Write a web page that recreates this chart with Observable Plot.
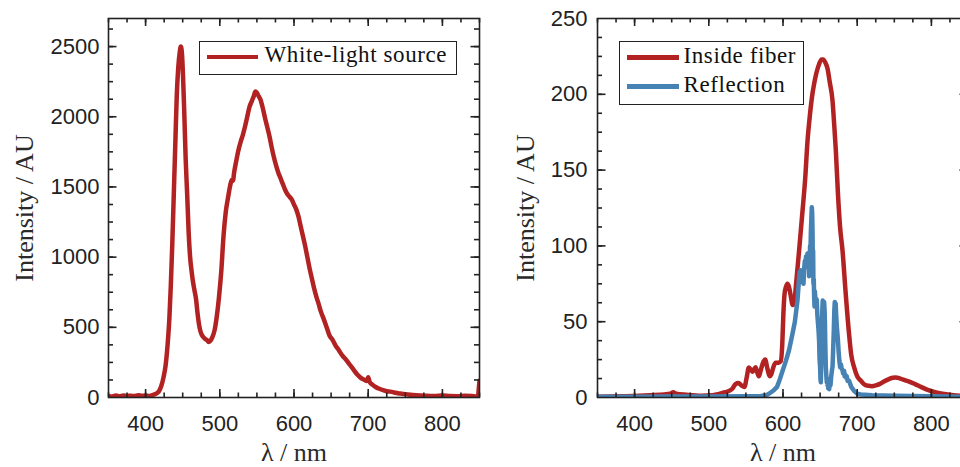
<!DOCTYPE html>
<html><head><meta charset="utf-8">
<script src="https://cdn.jsdelivr.net/npm/d3@7"></script>
<script src="https://cdn.jsdelivr.net/npm/@observablehq/plot@0.6"></script>
<style>
html,body{margin:0;padding:0;background:#fff;overflow:hidden}
#wrap{position:relative;width:960px;height:467px;overflow:hidden;background:#fff}
#left{position:absolute;left:0;top:0;width:480px;height:467px}
#right{position:absolute;left:480px;top:0;width:490px;height:467px}
.legend{position:absolute;box-sizing:border-box;background:#fff;border:1.5px solid #222;font-family:"Liberation Serif",serif;font-size:23px;line-height:23px;color:#111;letter-spacing:0.6px}
.legend .ln{position:absolute;height:4.5px}
.legend .tx{position:absolute;white-space:nowrap}
g[aria-label="ylabel"] text, g[aria-label="xlabel"] text{letter-spacing:0.8px;word-spacing:3px}
</style>
</head><body>
<div id="wrap">
  <div id="left"></div>
  <div id="right"></div>
  <div class="legend" id="legL" style="left:199px;top:40.7px;width:258px;height:34.6px"></div>
  <div class="legend" id="legR" style="left:619px;top:40.7px;width:185.3px;height:64.6px"></div>
</div>
<script>
// ---- data ----
const whiteNm = [350,355,360,365,370,375,380,385,390,395,400,405,410,415,418,421,424,427,430,432,434,436,438,440,442,444,446,447.5,449,450.5,452,454,456,458,460,462,464,466,468,470,472,474,477,480,483,485,487,490,493,496,499,502,505,508,511,514,516,518,519,522,525,528,531,534,537,540,543,546,548,550,552,555,558,561,564,567,570,573,576,579,582,585,588,591,594,597,600,603,606,609,612,615,618,621,624,627,630,633,636,640,644,648,652,656,660,665,670,675,680,685,690,695,698,700,702,706,710,715,720,725,730,735,740,745,750,760,770,780,790,800,810,820,830,840,845,848,849,850];
const whiteI  = [12,8,14,9,15,11,13,10,16,12,14,11,18,30,45,80,140,230,400,560,800,1100,1450,1800,2150,2350,2460,2500,2450,2280,2050,1700,1450,1180,1000,900,820,760,700,600,520,470,435,418,408,395,402,430,480,580,720,900,1150,1320,1420,1510,1550,1545,1590,1680,1760,1820,1870,1930,2000,2070,2110,2150,2180,2170,2150,2120,2060,1990,1925,1860,1780,1710,1650,1600,1560,1520,1480,1450,1430,1410,1375,1340,1290,1220,1150,1080,1000,920,850,780,720,670,615,560,500,440,410,370,340,300,270,235,200,165,140,125,118,145,110,90,75,62,52,45,42,36,30,27,24,18,14,12,10,14,10,9,12,10,8,12,60,120];

const fiberNm = [350,380,400,420,440,448,452,456,470,490,505,515,522,528,532,536,540,544,548,551,554,557,559,561,563,565,567.5,570,574,576,579,582,584,587,590,594,597,599,600.5,602,604,606,608,610.5,613,615,617.3,619.5,621.7,624,626.3,630,633,636,639,642,645,648.7,652,654,657,660,663,666.7,669,671.2,674,677,680.2,684.6,689,692,695.8,700,705,710,715,720,725,730,736,742,748,752,758,764,770,778,786,795,805,815,830,850];
const fiberI  = [0.5,0.8,1,1.5,2,2.5,3.5,2.5,1.8,1.2,1.5,2.5,3.5,4.5,6,8.8,9.5,8,7,13,19.8,18,17,18.5,20,17,14,18,24,25,19,14,15,20,23,23,24,35,55,68,73,75,73,67,61,62,73,85,97,110,123,145,169,185,198,207,214,220,223,223,221,217,208,196,180,163,135,112,97,68,42,28,20,14,11,8.5,7.7,7.5,8,8.8,10.5,12,13,13.2,12.5,11.5,10.5,8.8,7,5,3.5,2.5,1.5,1];

const reflNm = [350,400,450,500,550,570,578,583.5,588,592,595,599,603.8,608,612.8,616,619.5,621.7,622.5,623.3,624,625,626,627,627.6,628.5,629.4,630.2,631,632,633,633.8,634.5,635.2,636,636.5,637,637.5,638.2,638.8,639.3,639.8,640.2,640.6,641,641.5,642,642.5,643,644,645,645.6,646.2,647,647.8,648.7,649.3,650,650.5,651,651.6,652.3,652.8,653.5,654,654.5,655,655.4,656,656.5,657,657.7,658.3,659,659.5,660,660.5,661,662.2,663,664,665,666,666.7,667.5,668.5,669.2,669.8,670.5,671,671.6,672.2,672.8,673.4,674,675,676,677,678,679,680.2,681,682.4,683,684,685,686,687,689,692,695.8,700,705,720,750,800,850];
const reflI  = [0.5,0.5,0.6,0.6,0.8,1,1.5,3.3,5,7,11,17,24,31,42,50,64,79,83,78,84,81,76,80,75,85,90,86,93,89,95,88,92,80,90,100,95,108,118,125.5,122,110,90,97,75,78,66,60,70,62,65,64,55,50,45,37,25,20,12,10,25,40,55,64,58,60,55,63,58,50,35,20,15,10,12,8,12,6,5.5,9,8,14,18,20,30,45,58,63,60,62,55,50,45,42,38,30,24,20,22,19,18,16,17.6,14,15,13,14,11,11,7,4.4,2.5,2,1.5,1.2,0.8,0.5];

const xMajor = [400,500,600,700,800];
const xMinor = d3.range(350, 851, 25);
const yMajorL = [0,500,1000,1500,2000,2500];
const yMinorL = d3.range(0, 2700, 125);
const yMajorR = [0,50,100,150,200,250];
const yMinorR = d3.range(0, 250.1, 12.5);

const RED = "#b22222", BLUE = "#4682b4", INK = "#222";
const X0 = 350, X1 = 850;
const toRows = (xs, ys) => xs.map((x, i) => ({nm: x, v: ys[i]}));

// inward ticks on all four sides, drawn as short rules through the plot's scales
function frameTicks(yMax, yMajor, yMinor, fw, fh) {
  const kx = px => px * (X1 - X0) / fw;
  const ky = px => px * yMax / fh;
  const st = {stroke: INK, strokeWidth: 1.6};
  const out = [];
  for (const [t, L] of [[xMinor, 4.5], [xMajor, 8]]) {
    out.push(Plot.ruleX(t, {x: d => d, y1: 0, y2: ky(L), ...st}));
    out.push(Plot.ruleX(t, {x: d => d, y1: yMax, y2: yMax - ky(L), ...st}));
  }
  for (const [t, L] of [[yMinor, 5], [yMajor, 8.5]]) {
    const tt = t.filter(v => v > 0 && v < yMax);
    out.push(Plot.ruleY(tt, {y: d => d, x1: X0, x2: X0 + kx(L), ...st}));
    out.push(Plot.ruleY(tt, {y: d => d, x1: X1, x2: X1 - kx(L), ...st}));
  }
  return out;
}

function frameAxes(yMajor, pad) {
  return [
    Plot.axisX({anchor: "bottom", ticks: xMajor, tickSize: 0, tickPadding: 18, label: null, tickFormat: "d",
      fontSize: 22, fontFamily: "Liberation Sans", fill: INK}),
    Plot.axisY({anchor: "left", ticks: yMajor, tickSize: 0, tickPadding: pad, label: null, tickFormat: "d",
      fontSize: 22, fontFamily: "Liberation Sans", fill: INK}),
    Plot.frame({stroke: INK, strokeWidth: 1.6})
  ];
}

function labels(ydx) {
  return [
    Plot.text(["Intensity / AU"], {text: d => d, frameAnchor: "left", rotate: -90, dx: ydx,
      lineAnchor: "middle", textAnchor: "middle", fontSize: 26, fontFamily: "Liberation Serif",
      fill: "#2a2a2a", ariaLabel: "ylabel"}),
    Plot.text(["λ / nm"], {text: d => d, frameAnchor: "bottom", dy: 55.5,
      lineAnchor: "middle", textAnchor: "middle", fontSize: 26, fontFamily: "Liberation Serif",
      fill: "#2a2a2a", ariaLabel: "xlabel"})
  ];
}

const left = Plot.plot({
  width: 480, height: 467,
  marginLeft: 108, marginRight: 1, marginTop: 18, marginBottom: 70,
  style: {background: "transparent", overflow: "visible"},
  x: {domain: [X0, X1]},
  y: {domain: [0, 2700]},
  marks: [
    Plot.line(toRows(whiteNm, whiteI), {x: "nm", y: "v", stroke: RED, strokeWidth: 4.5, curve: "monotone-x", clip: true}),
    ...frameAxes(yMajorL, 9),
    ...labels(-84),
    ...frameTicks(2700, yMajorL, yMinorL, 371, 379)
  ]
});
document.getElementById("left").append(left);

const right = Plot.plot({
  width: 490, height: 467,
  marginLeft: 117, marginRight: 2, marginTop: 18, marginBottom: 70,
  style: {background: "transparent", overflow: "visible"},
  x: {domain: [X0, X1]},
  y: {domain: [0, 250]},
  marks: [
    Plot.line(toRows(fiberNm, fiberI), {x: "nm", y: "v", stroke: RED, strokeWidth: 4.5, curve: "monotone-x", clip: true}),
    Plot.line(toRows(reflNm, reflI), {x: "nm", y: "v", stroke: BLUE, strokeWidth: 4.5, curve: "linear", clip: true}),
    ...frameAxes(yMajorR, 10),
    ...labels(-72),
    ...frameTicks(250, yMajorR, yMinorR, 371, 379)
  ]
});
document.getElementById("right").append(right);

// ---- legends ----
function legend(el, items, lineLeft, lineW, textLeft, rows) {
  items.forEach((it, i) => {
    const ln = document.createElement("div");
    ln.className = "ln";
    ln.style.cssText = `left:${lineLeft}px;top:${rows[i].line}px;width:${lineW}px;background:${it.color}`;
    const tx = document.createElement("div");
    tx.className = "tx";
    tx.style.cssText = `left:${textLeft}px;top:${rows[i].text}px`;
    tx.textContent = it.label;
    el.append(ln, tx);
  });
}
legend(document.getElementById("legL"), [{label: "White-light source", color: RED}], 6.5, 51, 64.5,
  [{line: 13.3, text: 1.8}]);
legend(document.getElementById("legR"), [{label: "Inside fiber", color: RED}, {label: "Reflection", color: BLUE}], 6.5, 52, 63.5,
  [{line: 13.6, text: 2.5}, {line: 42.6, text: 31.2}]);
</script>
</body></html>
